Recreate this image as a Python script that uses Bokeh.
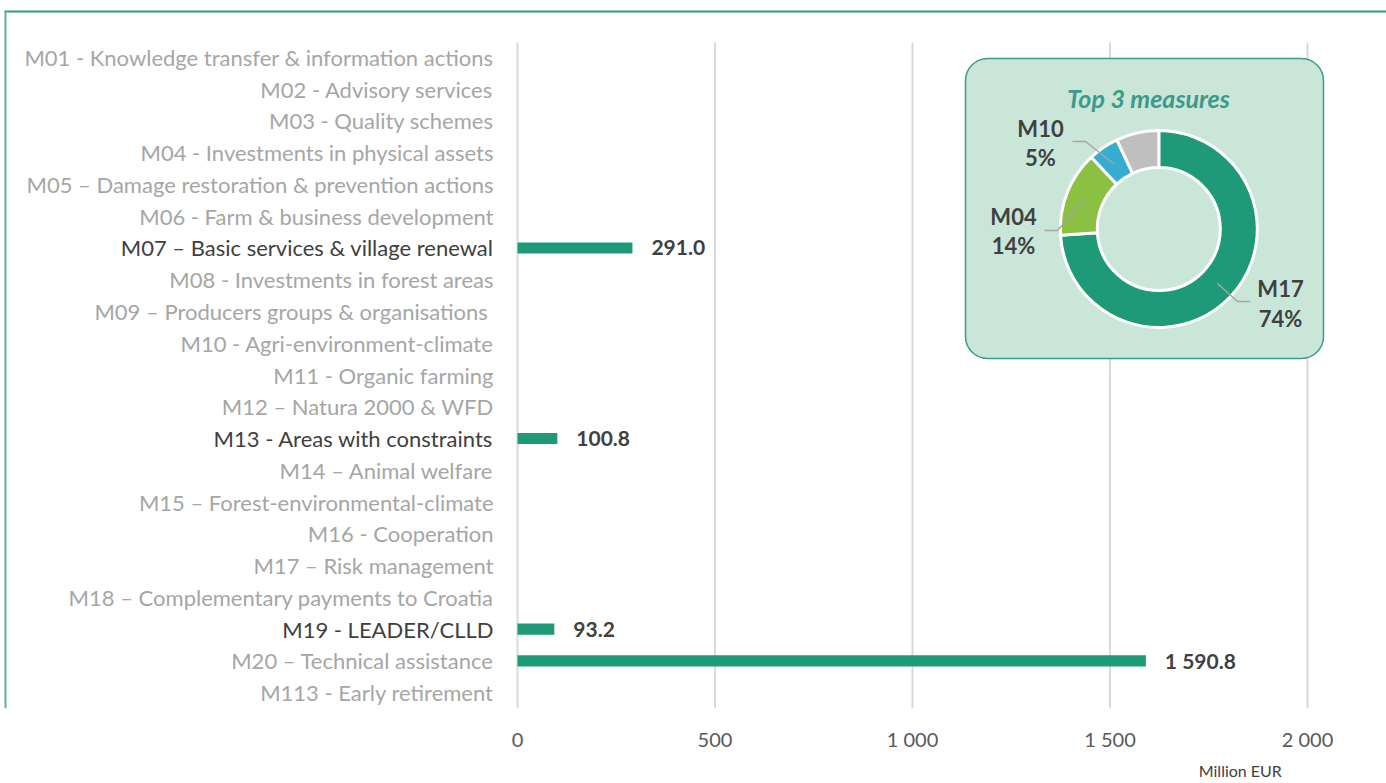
import math
from bokeh.plotting import figure
from bokeh.models import Range1d, FixedTicker, ColumnDataSource, LinearAxis
from bokeh.core.properties import value
from bokeh.embed import file_html
from bokeh.resources import INLINE

# ---------------- data ----------------
categories = [
    "M01 - Knowledge transfer & information actions",
    "M02 - Advisory services",
    "M03 - Quality schemes",
    "M04 - Investments in physical assets",
    "M05 \u2013 Damage restoration & prevention actions",
    "M06 - Farm & business development",
    "M07 \u2013 Basic services & village renewal",
    "M08 - Investments in forest areas",
    "M09 \u2013 Producers groups  & organisations",
    "M10 - Agri-environment-climate",
    "M11 - Organic farming",
    "M12 \u2013 Natura 2000 & WFD",
    "M13 - Areas with constraints",
    "M14 \u2013 Animal welfare",
    "M15 \u2013 Forest-environmental-climate",
    "M16 - Cooperation",
    "M17 \u2013 Risk management",
    "M18 \u2013 Complementary payments to Croatia",
    "M19 - LEADER/CLLD",
    "M20 \u2013 Technical assistance",
    "M113 - Early retirement",
]
highlighted = [
    "M07 \u2013 Basic services & village renewal",
    "M13 - Areas with constraints",
    "M19 - LEADER/CLLD",
]
bar_categories = [
    "M07 \u2013 Basic services & village renewal",
    "M13 - Areas with constraints",
    "M19 - LEADER/CLLD",
    "M20 \u2013 Technical assistance",
]
bar_values = [291.0, 100.8, 93.2, 1590.8]
bar_labels = ["291.0", "100.8", "93.2", "1 590.8"]

x_ticks = [0, 500, 1000, 1500, 2000]
x_tick_labels = ["0", "500", "1 000", "1 500", "2 000"]
unit_label = "Million EUR"

donut_names = ["M17", "M04", "M10", "Other"]
donut_shares = [74, 14, 5, 7]
donut_colors = ["#1e9a78", "#8cc043", "#35acd0", "#bfbfbf"]

# ---------------- geometry helpers (page pixels -> data) ----------------
FONT = "Lato"
W, H = 1386, 783
ZERO_X = 517            # pixel column of value 0
ROW_T, ROW_B = 41, 708  # band occupied by the category rows
PX_PER_UNIT = 197.5 / 500.0
N = len(categories)
ROW = (ROW_B - ROW_T) / N


def dx(px):
    return (px - ZERO_X) / PX_PER_UNIT


def dy(py):
    return (N - 0.5) - (py - ROW_T) / ROW


def ypos(cat):
    return (N - 1) - categories.index(cat)


p = figure(
    frame_width=W,
    frame_height=ROW_B,
    min_border_left=0,
    min_border_right=0,
    min_border_top=0,
    min_border_bottom=H - ROW_B,
    x_range=Range1d(dx(0), dx(W)),
    y_range=Range1d(dy(ROW_B), dy(0)),
    y_axis_location=None,
    output_backend="svg",
    toolbar_location=None,
    background_fill_color="white",
    border_fill_color="white",
)
p.outline_line_color = None
p.xgrid.grid_line_color = None
p.ygrid.grid_line_color = None

# x axis
ax = p.xaxis[0]
ax.ticker = FixedTicker(ticks=x_ticks)
ax.major_label_overrides = {t: l for t, l in zip(x_ticks, x_tick_labels)}
ax.axis_line_color = None
ax.major_tick_line_color = None
ax.minor_tick_line_color = None
ax.major_label_standoff = 12
ax.major_label_text_font = FONT
ax.major_label_text_font_size = "20px"
ax.major_label_text_color = "#595959"

# unit caption as a second axis below
UNIT_X = round(dx(1240))
unit_ax = LinearAxis(ticker=FixedTicker(ticks=[UNIT_X]),
                     major_label_overrides={UNIT_X: unit_label})
unit_ax.axis_line_color = None
unit_ax.major_tick_line_color = None
unit_ax.minor_tick_line_color = None
unit_ax.major_tick_out = 0
unit_ax.major_tick_in = 0
unit_ax.major_label_standoff = 7
unit_ax.major_label_text_font = FONT
unit_ax.major_label_text_font_size = "16px"
unit_ax.major_label_text_color = "#404040"
p.add_layout(unit_ax, "below")

# vertical gridlines at the ticks
p.segment(x0=x_ticks, x1=x_ticks, y0=dy(ROW_B), y1=dy(ROW_T + 1),
          line_color="#d9d9d9", line_width=2)

# category labels
cat_src = ColumnDataSource(dict(
    x=[dx(493)] * N,
    y=[ypos(c) for c in categories],
    text=categories,
    color=["#404040" if c in highlighted else "#a6a6a6" for c in categories],
))
p.text(x="x", y="y", text="text", text_color="color", source=cat_src,
       text_align="right", text_baseline="middle",
       text_font=value(FONT), text_font_size="22px")

# bars
bar_src = ColumnDataSource(dict(
    y=[ypos(c) for c in bar_categories], right=bar_values, label=bar_labels,
))
p.hbar(y="y", left=0, right="right", height=0.35, source=bar_src,
       fill_color="#1e9a78", line_color=None)
p.text(x="right", y="y", text="label", source=bar_src, x_offset=19,
       text_baseline="middle", text_align="left",
       text_font=value(FONT), text_font_style="bold", text_font_size="21px",
       text_color="#404040")

# inset box
p.quad(left=dx(965), right=dx(1323), top=dy(58), bottom=dy(358),
       border_radius=22, fill_color="#c9e6d9", line_color="#3d9a8c", line_width=1.5)
p.text(x=[dx(1148)], y=[dy(97)], text=["Top 3 measures"], text_align="center",
       text_baseline="middle", text_font=value(FONT), text_font_style="bold italic",
       text_font_size="25px", text_color="#3a9a8c")

# donut
cum = 0.0
starts, ends = [], []
total = float(sum(donut_shares))
for s in donut_shares:
    starts.append(math.pi / 2 - 2 * math.pi * cum / total)
    cum += s
    ends.append(math.pi / 2 - 2 * math.pi * cum / total)
cx, cy = dx(1158.3), dy(228.5)
p.annular_wedge(x=cx, y=cy, inner_radius=61.5, outer_radius=98.5,
                inner_radius_units="screen", outer_radius_units="screen",
                start_angle=starts, end_angle=ends, direction="clock",
                fill_color=donut_colors, line_color="white", line_width=3)

# leader lines
p.multi_line(
    xs=[[dx(1072), dx(1085), dx(1113)], [dx(1044), dx(1057), dx(1085)], [dx(1217), dx(1237), dx(1250)]],
    ys=[[dy(141), dy(141), dy(163)], [dy(230), dy(230), dy(198)], [dy(283), dy(301), dy(301)]],
    line_color="#a6a6a6", line_width=1.5)

lab_x = [dx(1040), dx(1013), dx(1280)]
lab_y = [dy(128), dy(216), dy(288)]
lab_name = [donut_names[2], donut_names[1], donut_names[0]]
lab_pct = ["%d%%" % donut_shares[2], "%d%%" % donut_shares[1], "%d%%" % donut_shares[0]]
p.text(x=lab_x, y=lab_y, text=lab_name, text_align="center", text_baseline="middle",
       text_font=value(FONT), text_font_style="bold", text_font_size="22px", text_color="#404040")
p.text(x=lab_x, y=[dy(157), dy(245), dy(318)], text=lab_pct, text_align="center",
       text_baseline="middle", text_font=value(FONT), text_font_style="bold",
       text_font_size="22px", text_color="#404040")

# green frame lines
p.segment(x0=[dx(4), dx(5)], y0=[dy(11), dy(11)], x1=[dx(W), dx(5)], y1=[dy(11), dy(ROW_B)],
          line_color=["#2e9c7c", "#5cb396"], line_width=2)

open("out.html", "w").write(file_html(p, INLINE))
